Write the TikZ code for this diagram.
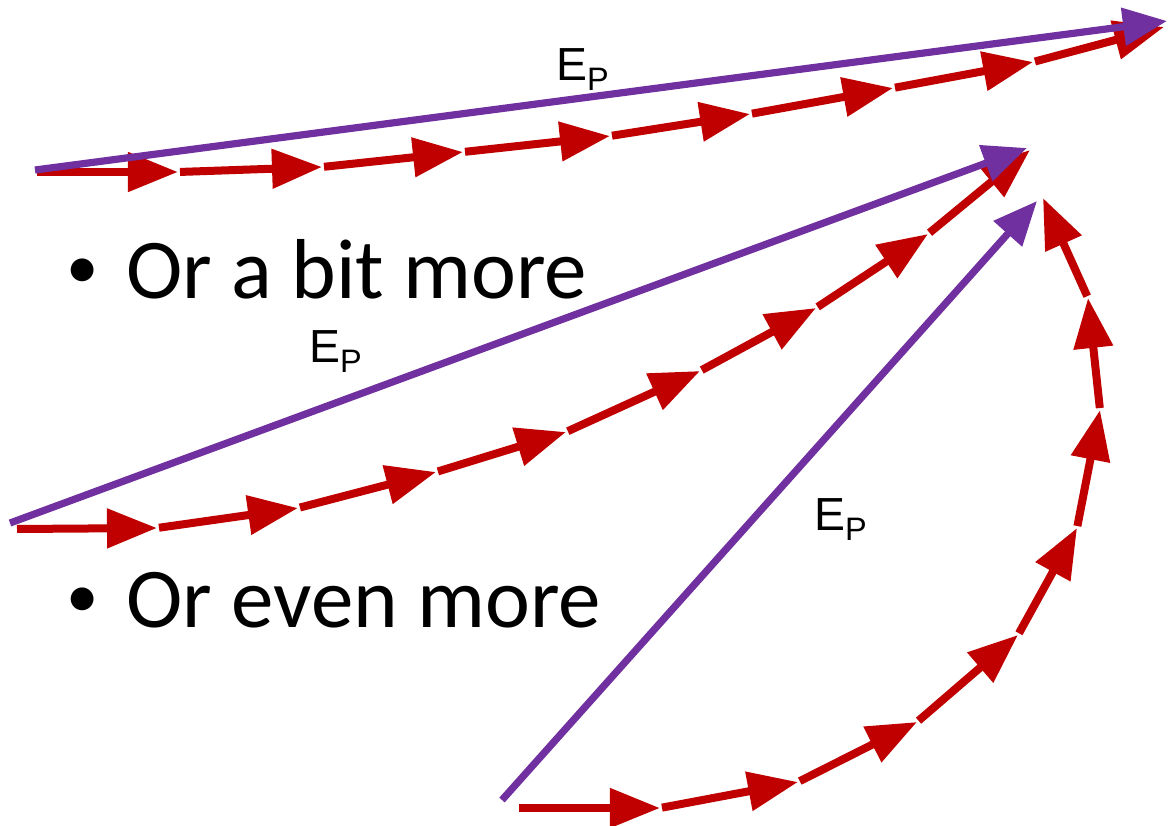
\documentclass[tikz,border=0pt]{standalone}
\usepackage{fontspec}
\setmainfont{Carlito}
\newfontfamily\labelfont{Liberation Sans}
\usetikzlibrary{arrows.meta}
\definecolor{walkred}{HTML}{C00000}
\definecolor{driftpurple}{HTML}{7030A0}
\newcommand{\dotmark}{\makebox[1.5cm][l]{\raisebox{0.25cm}{\fontsize{46}{50}\selectfont•}}}

\begin{document}
\begin{tikzpicture}[x=0.025cm, y=-0.025cm,
    every node/.style={inner sep=0pt},
    walk/.style={-{Triangle[length=1.25cm, width=0.95cm]}, line width=0.2cm,
      color=walkred, shorten <=0.05cm},
    drift/.style={-{Triangle[length=1.1cm, width=0.92cm]}, line width=0.18cm,
      color=driftpurple},
    eplabel/.style={anchor=base west, font=\labelfont\fontsize{33}{40}\selectfont},
    bullet/.style={anchor=base west, font=\fontsize{60.5}{70}\selectfont}]

  \useasboundingbox (0,0) rectangle (1168,825);

  % small steps, one chain each
  \foreach \n/\x/\y in {a0/35/172, a1/178/172, a2/322/167, a3/463/152, a4/610/136,
      a5/750/114, a6/893/88, a7/1033/62, a8/1164/27}
    \coordinate (\n) at (\x,\y);
  \foreach \n/\x/\y in {b0/15/529, b1/157/528, b2/298/508, b3/436/472, b4/566/432,
      b5/700/371, b6/816/308, b7/928/234, b8/1030/150}
    \coordinate (\n) at (\x,\y);
  \foreach \n/\x/\y in {c0/517/808, c1/660/808, c2/798/782, c3/917/722, c4/1018/635,
      c5/1077/528, c6/1100/410, c7/1088/298, c8/1043/198}
    \coordinate (\n) at (\x,\y);

  \coordinate (p0) at (35,170);  \coordinate (p1) at (1167,21);
  \coordinate (q0) at (10,523);  \coordinate (q1) at (1027,148);
  \coordinate (r0) at (502,800); \coordinate (r1) at (1037,201);

  \foreach \s in {a,b,c}
    \foreach \i [count=\j] in {0,...,7}
      \draw[walk] (\s\i) -- (\s\j);

  \draw[drift] (p0) -- (p1);
  \draw[drift] (q0) -- (q1);
  \draw[drift] (r0) -- (r1);

  \node[eplabel] (ep1) at (556,80) {E\textsubscript{P}};
  \node[eplabel] (ep2) at (309,362) {E\textsubscript{P}};
  \node[eplabel] (ep3) at (814,530) {E\textsubscript{P}};

  \node[bullet] (bit) at (66,298) {\dotmark Or a bit more};
  \node[bullet] (even) at (66,627) {\dotmark Or even more};
\end{tikzpicture}
\end{document}
